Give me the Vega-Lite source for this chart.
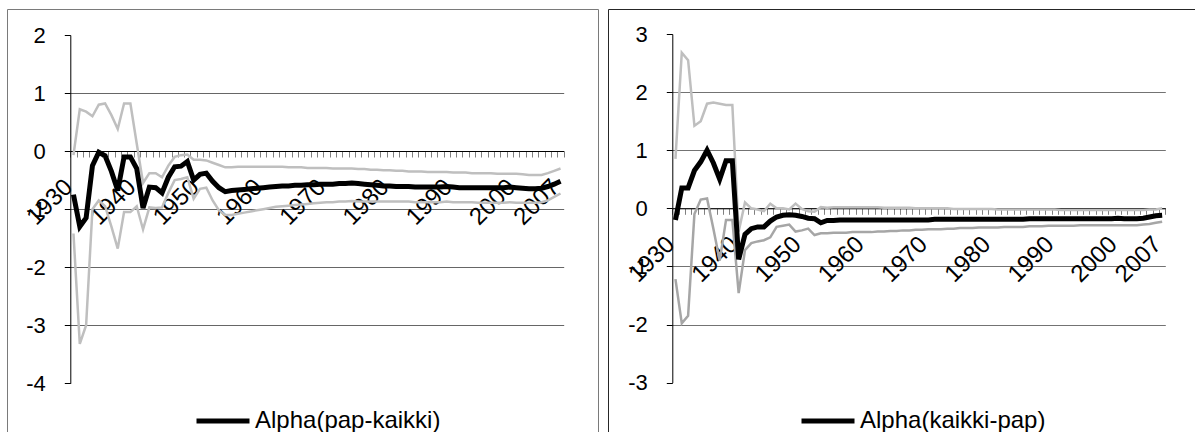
{
  "$schema": "https://vega.github.io/schema/vega-lite/v6.json",
  "padding": {"left": -2, "top": 8, "right": 0, "bottom": 0},
  "spacing": 10,
  "bounds": "flush",
  "background": "white",
  "config": {
    "font": "Liberation Sans",
    "axis": {"labelFont": "Liberation Sans", "labelColor": "black", "labelFontSize": 22},
    "legend": {"labelFont": "Liberation Sans", "labelColor": "black", "labelFontSize": 24, "labelLimit": 0, "symbolType": "stroke", "symbolSize": 2809, "symbolStrokeWidth": 5, "labelOffset": 3, "padding": 0, "orient": "none"}
  },
  "resolve": {"scale": {"x": "independent", "y": "independent", "color": "independent"}, "legend": {"color": "independent"}, "axis": {"x": "independent", "y": "independent"}},
  "datasets": {
    "L": [
      {"year":1930,"a":-0.75,"u":-0.07,"l":-1.42},{"year":1931,"a":-1.3,"u":0.72,"l":-3.32},{"year":1932,"a":-1.15,"u":0.68,"l":-3.0},{"year":1933,"a":-0.25,"u":0.6,"l":-1.0},{"year":1934,"a":-0.02,"u":0.8,"l":-0.85},{"year":1935,"a":-0.08,"u":0.82,"l":-0.95},{"year":1936,"a":-0.35,"u":0.62,"l":-1.3},{"year":1937,"a":-0.68,"u":0.38,"l":-1.68},{"year":1938,"a":-0.1,"u":0.82,"l":-1.05},{"year":1939,"a":-0.1,"u":0.82,"l":-1.05},
      {"year":1940,"a":-0.3,"u":0.13,"l":-0.95},{"year":1941,"a":-0.98,"u":-0.55,"l":-1.35},{"year":1942,"a":-0.62,"u":-0.38,"l":-0.97},{"year":1943,"a":-0.63,"u":-0.38,"l":-0.98},{"year":1944,"a":-0.72,"u":-0.45,"l":-0.97},{"year":1945,"a":-0.45,"u":-0.25,"l":-0.72},{"year":1946,"a":-0.27,"u":-0.1,"l":-0.5},{"year":1947,"a":-0.26,"u":-0.07,"l":-0.48},{"year":1948,"a":-0.18,"u":-0.06,"l":-0.45},{"year":1949,"a":-0.5,"u":-0.15,"l":-0.82},
      {"year":1950,"a":-0.4,"u":-0.15,"l":-0.65},{"year":1951,"a":-0.38,"u":-0.16,"l":-0.63},{"year":1952,"a":-0.52,"u":-0.2,"l":-0.85},{"year":1953,"a":-0.63,"u":-0.24,"l":-1.02},{"year":1954,"a":-0.7,"u":-0.28,"l":-1.1},{"year":1955,"a":-0.68,"u":-0.28,"l":-1.1},{"year":1956,"a":-0.67,"u":-0.27,"l":-1.08},{"year":1957,"a":-0.66,"u":-0.27,"l":-1.06},{"year":1958,"a":-0.65,"u":-0.27,"l":-1.04},{"year":1959,"a":-0.64,"u":-0.27,"l":-1.02},
      {"year":1960,"a":-0.63,"u":-0.27,"l":-1.0},{"year":1961,"a":-0.62,"u":-0.27,"l":-0.98},{"year":1962,"a":-0.61,"u":-0.27,"l":-0.96},{"year":1963,"a":-0.6,"u":-0.27,"l":-0.95},{"year":1964,"a":-0.6,"u":-0.28,"l":-0.94},{"year":1965,"a":-0.59,"u":-0.28,"l":-0.93},{"year":1966,"a":-0.59,"u":-0.28,"l":-0.92},{"year":1967,"a":-0.58,"u":-0.29,"l":-0.91},{"year":1968,"a":-0.58,"u":-0.29,"l":-0.9},{"year":1969,"a":-0.57,"u":-0.29,"l":-0.89},
      {"year":1970,"a":-0.57,"u":-0.29,"l":-0.88},{"year":1971,"a":-0.57,"u":-0.3,"l":-0.88},{"year":1972,"a":-0.56,"u":-0.3,"l":-0.87},{"year":1973,"a":-0.56,"u":-0.3,"l":-0.87},{"year":1974,"a":-0.55,"u":-0.3,"l":-0.86},{"year":1975,"a":-0.56,"u":-0.31,"l":-0.87},{"year":1976,"a":-0.57,"u":-0.31,"l":-0.87},{"year":1977,"a":-0.58,"u":-0.32,"l":-0.87},{"year":1978,"a":-0.59,"u":-0.32,"l":-0.87},{"year":1979,"a":-0.6,"u":-0.33,"l":-0.87},
      {"year":1980,"a":-0.6,"u":-0.33,"l":-0.87},{"year":1981,"a":-0.61,"u":-0.34,"l":-0.87},{"year":1982,"a":-0.61,"u":-0.34,"l":-0.87},{"year":1983,"a":-0.61,"u":-0.35,"l":-0.87},{"year":1984,"a":-0.62,"u":-0.35,"l":-0.88},{"year":1985,"a":-0.62,"u":-0.35,"l":-0.88},{"year":1986,"a":-0.62,"u":-0.36,"l":-0.88},{"year":1987,"a":-0.62,"u":-0.36,"l":-0.88},{"year":1988,"a":-0.62,"u":-0.36,"l":-0.88},{"year":1989,"a":-0.61,"u":-0.36,"l":-0.87},
      {"year":1990,"a":-0.62,"u":-0.37,"l":-0.88},{"year":1991,"a":-0.63,"u":-0.37,"l":-0.88},{"year":1992,"a":-0.63,"u":-0.37,"l":-0.88},{"year":1993,"a":-0.63,"u":-0.38,"l":-0.88},{"year":1994,"a":-0.63,"u":-0.38,"l":-0.89},{"year":1995,"a":-0.63,"u":-0.38,"l":-0.89},{"year":1996,"a":-0.63,"u":-0.38,"l":-0.89},{"year":1997,"a":-0.63,"u":-0.39,"l":-0.89},{"year":1998,"a":-0.63,"u":-0.39,"l":-0.89},{"year":1999,"a":-0.62,"u":-0.39,"l":-0.88},
      {"year":2000,"a":-0.63,"u":-0.39,"l":-0.89},{"year":2001,"a":-0.64,"u":-0.4,"l":-0.89},{"year":2002,"a":-0.65,"u":-0.41,"l":-0.89},{"year":2003,"a":-0.65,"u":-0.41,"l":-0.89},{"year":2004,"a":-0.64,"u":-0.41,"l":-0.88},{"year":2005,"a":-0.61,"u":-0.38,"l":-0.85},{"year":2006,"a":-0.57,"u":-0.34,"l":-0.79},{"year":2007,"a":-0.52,"u":-0.3,"l":-0.73}
    ],
    "R": [
      {"year":1930,"a":-0.2,"u":0.85,"l":-1.22},{"year":1931,"a":0.35,"u":2.68,"l":-1.98},{"year":1932,"a":0.35,"u":2.55,"l":-1.85},{"year":1933,"a":0.65,"u":1.42,"l":-0.1},{"year":1934,"a":0.8,"u":1.5,"l":0.15},{"year":1935,"a":1.0,"u":1.8,"l":0.17},{"year":1936,"a":0.78,"u":1.82,"l":-0.35},{"year":1937,"a":0.5,"u":1.8,"l":-0.9},{"year":1938,"a":0.82,"u":1.78,"l":-0.2},{"year":1939,"a":0.82,"u":1.78,"l":-0.2},
      {"year":1940,"a":-0.88,"u":-0.4,"l":-1.46},{"year":1941,"a":-0.45,"u":0.1,"l":-0.72},{"year":1942,"a":-0.35,"u":0.0,"l":-0.6},{"year":1943,"a":-0.32,"u":-0.02,"l":-0.57},{"year":1944,"a":-0.32,"u":-0.05,"l":-0.55},{"year":1945,"a":-0.22,"u":0.08,"l":-0.5},{"year":1946,"a":-0.15,"u":0.0,"l":-0.32},{"year":1947,"a":-0.12,"u":0.0,"l":-0.3},{"year":1948,"a":-0.11,"u":-0.02,"l":-0.28},{"year":1949,"a":-0.12,"u":0.08,"l":-0.4},
      {"year":1950,"a":-0.14,"u":-0.01,"l":-0.38},{"year":1951,"a":-0.17,"u":-0.05,"l":-0.35},{"year":1952,"a":-0.18,"u":-0.06,"l":-0.46},{"year":1953,"a":-0.25,"u":0.02,"l":-0.43},{"year":1954,"a":-0.21,"u":0.01,"l":-0.43},{"year":1955,"a":-0.21,"u":0.02,"l":-0.42},{"year":1956,"a":-0.2,"u":0.02,"l":-0.42},{"year":1957,"a":-0.2,"u":0.02,"l":-0.42},{"year":1958,"a":-0.2,"u":0.02,"l":-0.41},{"year":1959,"a":-0.2,"u":0.02,"l":-0.41},
      {"year":1960,"a":-0.2,"u":0.02,"l":-0.41},{"year":1961,"a":-0.2,"u":0.02,"l":-0.41},{"year":1962,"a":-0.2,"u":0.02,"l":-0.4},{"year":1963,"a":-0.2,"u":0.01,"l":-0.4},{"year":1964,"a":-0.2,"u":0.01,"l":-0.39},{"year":1965,"a":-0.2,"u":0.01,"l":-0.39},{"year":1966,"a":-0.2,"u":0.01,"l":-0.38},{"year":1967,"a":-0.2,"u":0.01,"l":-0.38},{"year":1968,"a":-0.2,"u":0.0,"l":-0.37},{"year":1969,"a":-0.2,"u":0.0,"l":-0.37},
      {"year":1970,"a":-0.2,"u":0.0,"l":-0.36},{"year":1971,"a":-0.19,"u":0.0,"l":-0.36},{"year":1972,"a":-0.19,"u":0.0,"l":-0.36},{"year":1973,"a":-0.19,"u":0.0,"l":-0.35},{"year":1974,"a":-0.19,"u":-0.01,"l":-0.35},{"year":1975,"a":-0.19,"u":-0.01,"l":-0.34},{"year":1976,"a":-0.19,"u":-0.01,"l":-0.34},{"year":1977,"a":-0.19,"u":-0.01,"l":-0.34},{"year":1978,"a":-0.19,"u":-0.01,"l":-0.33},{"year":1979,"a":-0.19,"u":-0.01,"l":-0.33},
      {"year":1980,"a":-0.19,"u":-0.01,"l":-0.33},{"year":1981,"a":-0.19,"u":-0.02,"l":-0.33},{"year":1982,"a":-0.19,"u":-0.02,"l":-0.32},{"year":1983,"a":-0.19,"u":-0.02,"l":-0.32},{"year":1984,"a":-0.19,"u":-0.02,"l":-0.32},{"year":1985,"a":-0.19,"u":-0.02,"l":-0.32},{"year":1986,"a":-0.18,"u":-0.02,"l":-0.31},{"year":1987,"a":-0.18,"u":-0.02,"l":-0.31},{"year":1988,"a":-0.18,"u":-0.02,"l":-0.31},{"year":1989,"a":-0.18,"u":-0.02,"l":-0.3},
      {"year":1990,"a":-0.18,"u":-0.02,"l":-0.3},{"year":1991,"a":-0.18,"u":-0.03,"l":-0.3},{"year":1992,"a":-0.18,"u":-0.03,"l":-0.3},{"year":1993,"a":-0.18,"u":-0.03,"l":-0.3},{"year":1994,"a":-0.18,"u":-0.03,"l":-0.29},{"year":1995,"a":-0.18,"u":-0.03,"l":-0.29},{"year":1996,"a":-0.18,"u":-0.03,"l":-0.29},{"year":1997,"a":-0.18,"u":-0.03,"l":-0.29},{"year":1998,"a":-0.18,"u":-0.03,"l":-0.29},{"year":1999,"a":-0.18,"u":-0.03,"l":-0.29},
      {"year":2000,"a":-0.17,"u":-0.03,"l":-0.29},{"year":2001,"a":-0.18,"u":-0.03,"l":-0.29},{"year":2002,"a":-0.18,"u":-0.03,"l":-0.29},{"year":2003,"a":-0.18,"u":-0.03,"l":-0.29},{"year":2004,"a":-0.17,"u":-0.03,"l":-0.28},{"year":2005,"a":-0.15,"u":-0.02,"l":-0.27},{"year":2006,"a":-0.13,"u":-0.02,"l":-0.25},{"year":2007,"a":-0.12,"u":0.0,"l":-0.23}
    ]
  },
  "hconcat": [
    {
      "width": 591,
      "height": 423,
      "view": {"stroke": "#7a7a7a", "strokeWidth": 1, "fill": "white"},
      "data": {"name": "L"},
      "encoding": {
        "x": {
          "field": "year", "type": "ordinal", "bandPosition": 0.5,
          "scale": {"type": "band", "range": [63.3, 556.7], "paddingInner": 0, "paddingOuter": 0},
          "axis": {"title": null, "orient": "bottom", "offset": -281, "tickBand": "extent", "domainColor": "black", "domainWidth": 1, "tickColor": "#808080", "tickSize": 6, "labelFontSize": 24, "labelAngle": -45, "labelAlign": "right", "labelBaseline": "middle", "labelPadding": 26, "labelOffset": -5, "labelOverlap": false, "labelBound": false, "labelFlush": false, "grid": false, "labelExpr": "(datum.value % 10 === 0 || datum.value === 2007) ? datum.label : ''"}
        }
      },
      "layer": [
        {
          "mark": {"type": "line", "color": "#bfbfbf", "strokeWidth": 2.5},
          "encoding": {"y": {"field": "u", "type": "quantitative", "scale": {"domain": [-4, 2], "range": [374.3, 26], "nice": false, "zero": false}, "axis": {"title": null, "orient": "left", "offset": -63.3, "values": [-4, -3, -2, -1, 0, 1, 2], "domainColor": "black", "tickColor": "black", "tickSize": 6, "labelPadding": 19, "labelBound": false, "labelFlush": false, "labelExpr": "'' + datum.value", "grid": true, "gridColor": "#666666", "gridOpacity": {"condition": {"test": "datum.value === 2 || datum.value === -4", "value": 0}, "value": 1}}}}
        },
        {
          "mark": {"type": "line", "color": "#bfbfbf", "strokeWidth": 2.5},
          "encoding": {"y": {"field": "l", "type": "quantitative", "scale": {"domain": [-4, 2], "range": [374.3, 26], "nice": false, "zero": false}, "axis": {"title": null, "orient": "left", "offset": -63.3, "values": [-4, -3, -2, -1, 0, 1, 2], "domainColor": "black", "tickColor": "black", "tickSize": 6, "labelPadding": 19, "labelBound": false, "labelFlush": false, "labelExpr": "'' + datum.value", "grid": true, "gridColor": "#666666", "gridOpacity": {"condition": {"test": "datum.value === 2 || datum.value === -4", "value": 0}, "value": 1}}}}
        },
        {
          "mark": {"type": "line", "strokeWidth": 5},
          "encoding": {
            "y": {"field": "a", "type": "quantitative", "scale": {"domain": [-4, 2], "range": [374.3, 26], "nice": false, "zero": false}, "axis": {"title": null, "orient": "left", "offset": -63.3, "values": [-4, -3, -2, -1, 0, 1, 2], "domainColor": "black", "tickColor": "black", "tickSize": 6, "labelPadding": 19, "labelBound": false, "labelFlush": false, "labelExpr": "'' + datum.value", "grid": true, "gridColor": "#666666", "gridOpacity": {"condition": {"test": "datum.value === 2 || datum.value === -4", "value": 0}, "value": 1}}},
            "color": {"datum": "Alpha(pap-kaikki)", "type": "nominal", "scale": {"range": ["black"]}, "legend": {"title": null, "orient": "none", "legendX": 187, "legendY": 383}}
          }
        }
      ]
    },
    {
      "width": 588,
      "height": 423,
      "view": {"stroke": "#262626", "strokeWidth": 1, "fill": "white"},
      "data": {"name": "R"},
      "encoding": {
        "x": {
          "field": "year", "type": "ordinal", "bandPosition": 0.5,
          "scale": {"type": "band", "range": [64.3, 557.3], "paddingInner": 0, "paddingOuter": 0},
          "axis": {"title": null, "orient": "bottom", "offset": -223.7, "tickBand": "extent", "domainColor": "black", "domainWidth": 1, "tickColor": "#808080", "tickSize": 6, "labelFontSize": 24, "labelAngle": -45, "labelAlign": "right", "labelBaseline": "middle", "labelPadding": 26, "labelOffset": -5, "labelOverlap": false, "labelBound": false, "labelFlush": false, "grid": false, "labelExpr": "(datum.value % 10 === 0 || datum.value === 2007) ? datum.label : ''"}
        }
      },
      "layer": [
        {
          "mark": {"type": "line", "color": "#bfbfbf", "strokeWidth": 2.5},
          "encoding": {"y": {"field": "u", "type": "quantitative", "scale": {"domain": [-3, 3], "range": [373.6, 25], "nice": false, "zero": false}, "axis": {"title": null, "orient": "left", "offset": -64.3, "values": [-3, -2, -1, 0, 1, 2, 3], "domainColor": "black", "tickColor": "black", "tickSize": 6, "labelPadding": 19, "labelBound": false, "labelFlush": false, "labelExpr": "'' + datum.value", "grid": true, "gridColor": "#737373", "gridOpacity": {"condition": {"test": "datum.value === 3 || datum.value === -3", "value": 0}, "value": 1}}}}
        },
        {
          "mark": {"type": "line", "color": "#a6a6a6", "strokeWidth": 2.5},
          "encoding": {"y": {"field": "l", "type": "quantitative", "scale": {"domain": [-3, 3], "range": [373.6, 25], "nice": false, "zero": false}, "axis": {"title": null, "orient": "left", "offset": -64.3, "values": [-3, -2, -1, 0, 1, 2, 3], "domainColor": "black", "tickColor": "black", "tickSize": 6, "labelPadding": 19, "labelBound": false, "labelFlush": false, "labelExpr": "'' + datum.value", "grid": true, "gridColor": "#737373", "gridOpacity": {"condition": {"test": "datum.value === 3 || datum.value === -3", "value": 0}, "value": 1}}}}
        },
        {
          "mark": {"type": "line", "strokeWidth": 5},
          "encoding": {
            "y": {"field": "a", "type": "quantitative", "scale": {"domain": [-3, 3], "range": [373.6, 25], "nice": false, "zero": false}, "axis": {"title": null, "orient": "left", "offset": -64.3, "values": [-3, -2, -1, 0, 1, 2, 3], "domainColor": "black", "tickColor": "black", "tickSize": 6, "labelPadding": 19, "labelBound": false, "labelFlush": false, "labelExpr": "'' + datum.value", "grid": true, "gridColor": "#737373", "gridOpacity": {"condition": {"test": "datum.value === 3 || datum.value === -3", "value": 0}, "value": 1}}},
            "color": {"datum": "Alpha(kaikki-pap)", "type": "nominal", "scale": {"range": ["black"]}, "legend": {"title": null, "orient": "none", "legendX": 191, "legendY": 383}}
          }
        }
      ]
    }
  ]
}
